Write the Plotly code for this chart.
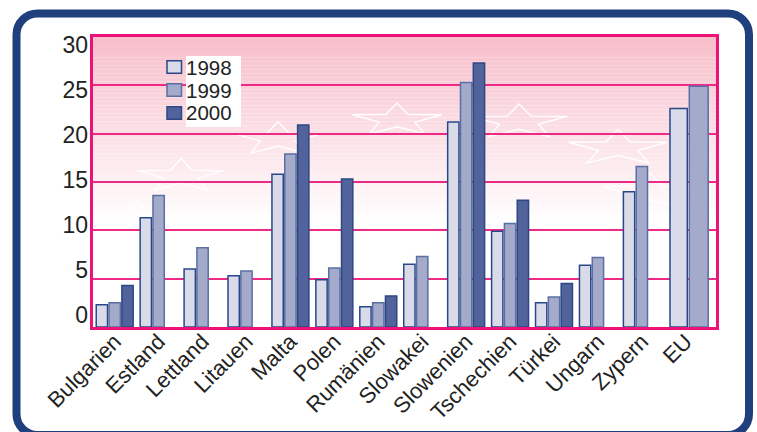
import math
import plotly.graph_objects as go

# Data
countries = ["Bulgarien", "Estland", "Lettland", "Litauen", "Malta", "Polen", "Rumänien",
             "Slowakei", "Slowenien", "Tschechien", "Türkei", "Ungarn", "Zypern", "EU"]
years = ["1998", "1999", "2000"]
v1998 = [2.3, 11.3, 6.0, 5.3, 15.8, 4.9, 2.1, 6.5, 21.2, 9.9, 2.5, 6.4, 14.0, 22.6]
v1999 = [2.5, 13.6, 8.2, 5.8, 17.9, 6.1, 2.5, 7.3, 25.3, 10.7, 3.1, 7.2, 16.6, 24.9]
v2000 = [4.3, None, None, None, 20.9, 15.3, 3.2, None, 27.3, 13.1, 4.5, None, None, None]
y_ticks = [0, 5, 10, 15, 20, 25, 30]

series = [v1998, v1999, v2000]
fills = ["#d9dbe8", "#a4aaca", "#52639b"]
edges = ["#2a4889", "#5a6fa3", "#2c4786"]

# Figure geometry (pixels)
W_FIG, H_FIG = 757, 432
L, R, T, B = 93, 41, 37, 105
PW, PH = W_FIG - L - R, H_FIG - T - B


def pxx(x):
    return (x - L) / PW


def pxy(y):
    return (T + PH - y) / PH


FONT = "Liberation Sans, Arial, sans-serif"

# Bar layout within each category slot
bw, pitch = 0.257, 0.292
eu_width = [0.394, 0.43, 0.0]
eu_offset = [-0.36, 0.08, 0.0]

fig = go.Figure()
n = len(countries)
for k, (name, vals) in enumerate(zip(years, series)):
    center = (k - 1) * pitch
    widths = [bw] * (n - 1) + [eu_width[k]]
    offsets = [center - bw / 2] * (n - 1) + [eu_offset[k]]
    fig.add_trace(go.Bar(
        x=countries, y=vals, name=name,
        width=widths, offset=offsets,
        marker=dict(color=fills[k], line=dict(color=edges[k], width=1.5)),
        showlegend=False, hoverinfo="x+y+name",
    ))

# Invisible trace carrying the label axis
fig.add_trace(go.Scatter(x=[countries[0]], y=[None], yaxis="y2",
                         showlegend=False, hoverinfo="skip"))

shapes = []

# Pink fade in the upper part of the plot
top_rgb = (247, 190, 202)
n_strips = 48
lo, hi = 10.0, 30.0
for i in range(n_strips):
    y0 = hi - (hi - lo) * i / n_strips
    y1 = hi - (hi - lo) * (i + 1) / n_strips
    t = (i + 0.5) / n_strips
    t = min(1.0, t * 1.04)
    c = tuple(round(a + (255 - a) * t) for a in top_rgb)
    shapes.append(dict(type="rect", xref="paper", yref="y", x0=0, x1=1, y0=y1, y1=y0,
                       fillcolor="rgb(%d,%d,%d)" % c, line=dict(width=0), layer="below"))


# Outlined stars
def star_path(cx, cy, rx, ry, rot=0.0):
    pts = []
    for j in range(10):
        a = math.radians(-90 + 36 * j + rot)
        r = 1.0 if j % 2 == 0 else 0.40
        pts.append((cx + rx * r * math.cos(a), cy + ry * r * math.sin(a)))
    return "M " + " L ".join("%.5f,%.5f" % (pxx(x), pxy(y)) for x, y in pts) + " Z"


stars = [(138, 219, 44, 17), (181, 176, 45, 17.5), (278, 139, 46, 17.5),
         (397, 120, 47, 17), (519, 122, 51, 18), (618, 148, 52, 18.5),
         (650, 192, 50, 19), (607, 240, 50, 19)]
for cx, cy, rx, ry in stars:
    shapes.append(dict(type="path", xref="paper", yref="paper", path=star_path(cx, cy, rx, ry),
                       line=dict(color="rgba(255,255,255,0.95)", width=1.4), layer="between"))

# Legend: white panel behind labels, colour swatches
shapes.append(dict(type="rect", xref="paper", yref="paper",
                   x0=pxx(186), x1=pxx(241), y0=pxy(127), y1=pxy(56),
                   fillcolor="white", line=dict(width=0), layer="above"))
row_y = [67, 90, 113]
annotations = []
for k, name in enumerate(years):
    yc = row_y[k]
    shapes.append(dict(type="rect", xref="paper", yref="paper",
                       x0=pxx(167), x1=pxx(181.5), y0=pxy(yc + 6.2), y1=pxy(yc - 6.2),
                       fillcolor=fills[k], line=dict(color=edges[k], width=1.5), layer="above"))
    annotations.append(dict(xref="paper", yref="paper", x=pxx(185), y=pxy(yc),
                            xanchor="left", yanchor="middle", text=name, showarrow=False,
                            borderpad=0,
                            font=dict(family=FONT, size=20.5, color="#222222")))

# Rounded frame around the whole graphic
fx0, fy0, fx1, fy1, rr = 16.5, 13.5, 749, 435, 21
kk = 0.5523 * rr
frame = [
    ("M", (fx0 + rr, fy0)), ("L", (fx1 - rr, fy0)),
    ("C", (fx1 - rr + kk, fy0), (fx1, fy0 + rr - kk), (fx1, fy0 + rr)),
    ("L", (fx1, fy1 - rr)),
    ("C", (fx1, fy1 - rr + kk), (fx1 - rr + kk, fy1), (fx1 - rr, fy1)),
    ("L", (fx0 + rr, fy1)),
    ("C", (fx0 + rr - kk, fy1), (fx0, fy1 - rr + kk), (fx0, fy1 - rr)),
    ("L", (fx0, fy0 + rr)),
    ("C", (fx0, fy0 + rr - kk), (fx0 + rr - kk, fy0), (fx0 + rr, fy0)),
]
path = " ".join(cmd + " " + " ".join("%.5f,%.5f" % (pxx(x), pxy(y)) for x, y in pts)
                for cmd, *pts in frame) + " Z"
shapes.append(dict(type="path", xref="paper", yref="paper", path=path,
                   line=dict(color="#1f3f7d", width=8), layer="above"))

# Slot centre of first category in pixels and px per category
c0, step = 114.7, 43.93
x_range = [(L - c0) / step, (L + PW - c0) / step]

fig.update_layout(
    width=W_FIG, height=H_FIG,
    margin=dict(l=L, r=R, t=T, b=B, pad=0, autoexpand=False),
    paper_bgcolor="white", plot_bgcolor="white",
    barmode="overlay",
    font=dict(family=FONT, color="#222222"),
    shapes=shapes, annotations=annotations,
    xaxis=dict(range=x_range, tickangle=-45, tickfont=dict(size=22, color="#222222"),
               showgrid=False, showline=True, linecolor="#ec1277", linewidth=3, mirror=True,
               ticks="", automargin=False, fixedrange=True, ticklabelstandoff=-10),
    yaxis=dict(range=[0, 30], tickvals=y_ticks, showticklabels=False,
               showgrid=True, gridcolor="#ee2a86", gridwidth=1.5, zeroline=False,
               showline=True, linecolor="#ec1277", linewidth=2.5, mirror=True, ticks="",
               automargin=False),
    yaxis2=dict(overlaying="y", side="left", range=[-1.333, 30.889], tickvals=y_ticks,
                showgrid=False, zeroline=False, showline=False, ticks="", automargin=False,
                tickfont=dict(size=23, color="#222222"), ticklabelstandoff=4),
)

fig.write_html("out.html")
